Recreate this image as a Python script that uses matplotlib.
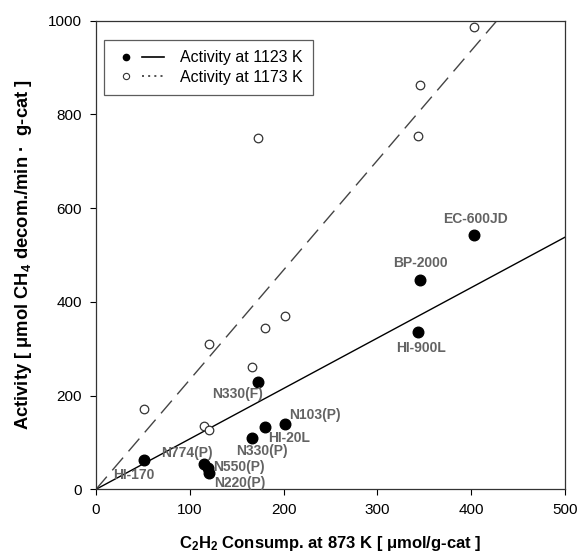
import matplotlib
matplotlib.use("Agg")
import matplotlib.pyplot as plt
from matplotlib.lines import Line2D
from matplotlib.legend_handler import HandlerTuple
import numpy as np

plt.rcParams['font.family'] = ['Liberation Sans', 'DejaVu Sans']
plt.rcParams['mathtext.fontset'] = 'custom'
plt.rcParams['mathtext.rm'] = 'Liberation Sans:bold'
plt.rcParams['mathtext.it'] = 'Liberation Sans:bold'
plt.rcParams['mathtext.bf'] = 'Liberation Sans:bold'
plt.rcParams['mathtext.default'] = 'rm'

# Data
samples = ["HI-170", "N774(P)", "N550(P)", "N220(P)", "N330(P)", "HI-20L",
           "N103(P)", "N330(F)", "HI-900L", "BP-2000", "EC-600JD"]
c2h2 = [51, 115, 119, 120, 166, 180, 201, 173, 343, 345, 403]
act_1123 = [63, 53, 45, 35, 110, 132, 140, 230, 336, 446, 542]
c2h2_open = [51, 115, 120, 120, 166, 180, 201, 173, 343, 345, 403]
act_1173 = [172, 136, 127, 310, 260, 344, 370, 750, 755, 862, 987]
slope_1123 = 1.076
slope_1173 = 2.34

label_x = [40, 97, 152, 153, 177, 206, 233, 151, 347, 346, 405]
label_y = [30, 77, 48, 14, 82, 110, 159, 203, 301, 482, 577]

fig = plt.figure(figsize=(5.79, 5.58), dpi=100)
ax = fig.add_axes([0.1658, 0.1231, 0.81, 0.8398])

xx = np.array([0, 500])
ax.plot(xx, slope_1123 * xx, color='black', lw=1.0, zorder=2)
ax.plot(xx, slope_1173 * xx, color='#444444', lw=1.0, dashes=(12, 6), zorder=2)

ax.scatter(c2h2_open, act_1173, s=38, facecolor='white', edgecolor='#333333',
           linewidth=0.9, zorder=3)
ax.scatter(c2h2, act_1123, s=58, facecolor='black', edgecolor='black', zorder=4)

for name, lx, ly in zip(samples, label_x, label_y):
    ax.text(lx, ly, name, ha='center', va='center', fontsize=10,
            fontweight='bold', color='#636363', zorder=5)

ax.set_xlim(0, 500)
ax.set_ylim(0, 1000)
ax.set_xticks([0, 100, 200, 300, 400, 500])
ax.set_yticks([0, 200, 400, 600, 800, 1000])
ax.tick_params(direction='out', length=4, width=0.8, labelsize=11, pad=6,
               top=False, right=False)
for s in ax.spines.values():
    s.set_linewidth(0.9)
    s.set_color('#333333')

ax.set_xlabel("C$_2$H$_2$ Consump. at 873 K [ \u03bcmol/g-cat ]",
              fontsize=12, fontweight='bold', labelpad=12)
ax.set_ylabel("Activity [ \u03bcmol CH$_4$ decom./min \u00b7  g-cat ]",
              fontsize=13.2, fontweight='bold', labelpad=10)

h1 = (Line2D([], [], marker='o', color='black', ls='none', markersize=4.5),
      Line2D([], [], color='black', lw=1.2))
h2 = (Line2D([], [], marker='o', markerfacecolor='white', markeredgecolor='#333333',
             ls='none', markersize=4.5, markeredgewidth=0.8),
      Line2D([], [], color='#333333', lw=1.2, ls=(0, (1.2, 2.5))))
leg = ax.legend([h1, h2], ["Activity at 1123 K", "Activity at 1173 K"],
                handler_map={tuple: HandlerTuple(ndivide=2, pad=0.3)},
                loc='upper left', bbox_to_anchor=(0.017, 0.959),
                fontsize=11.5, frameon=True, fancybox=False, handlelength=3.1,
                handletextpad=1.0, borderpad=0.65, labelspacing=0.3,
                borderaxespad=0)
leg.get_frame().set_edgecolor('#333333')
leg.get_frame().set_linewidth(0.9)

fig.savefig("out.png", dpi=100)
